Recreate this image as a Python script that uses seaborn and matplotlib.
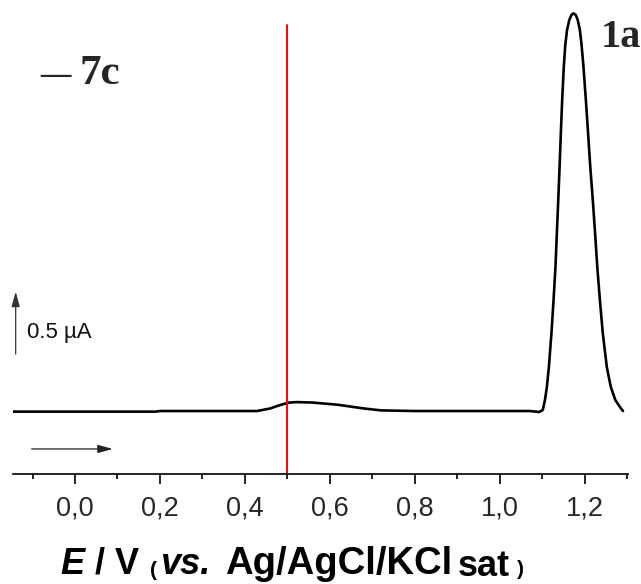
import matplotlib
matplotlib.use("Agg")
import matplotlib.pyplot as plt
import seaborn as sns
import pandas as pd
import numpy as np

# ---- data ----
potential_V = [-0.146, 0.19, 0.20, 0.30, 0.40, 0.4287, 0.459, 0.4800, 0.5018, 0.5206,
               0.5607, 0.6196, 0.6808, 0.7208, 0.80, 0.90, 1.00, 1.07, 1.0931,
               1.1013, 1.1065, 1.1110, 1.1157, 1.1218, 1.1267, 1.1312, 1.1345,
               1.1378, 1.1409, 1.1439, 1.1470, 1.1508, 1.1543, 1.1585, 1.1637,
               1.1689, 1.1738, 1.1790, 1.1837, 1.1887, 1.1927, 1.1972, 1.2028,
               1.2080, 1.2132, 1.2191, 1.2245, 1.2297, 1.2358, 1.2426, 1.2521,
               1.2615, 1.2721, 1.2815, 1.2902]
current_uA = [-0.005, -0.005, 0.0, 0.0, 0.0, 0.0, 0.02, 0.045, 0.067, 0.072,
              0.068, 0.05, 0.02, 0.005, 0.0, 0.0, 0.0, 0.0, -0.008,
              0.008, 0.089, 0.194, 0.355, 0.629, 0.895, 1.161, 1.435,
              1.702, 1.968, 2.242, 2.508, 2.774, 2.952, 3.073, 3.153,
              3.194, 3.207, 3.194, 3.153, 3.073, 2.952, 2.774, 2.508,
              2.242, 1.968, 1.702, 1.435, 1.161, 0.895, 0.629, 0.355,
              0.194, 0.089, 0.040, 0.0]
marker_potential = 0.5
xticks = [0.0, 0.2, 0.4, 0.6, 0.8, 1.0, 1.2]
xtick_labels = ["0,0", "0,2", "0,4", "0,6", "0,8", "1,0", "1,2"]
scale_bar_label = "0.5 \u00b5A"
curve_label = "7c"
peak_label = "1a"

df = pd.DataFrame({"E": potential_V, "I": current_uA})

W, H = 641, 584
fig = plt.figure(figsize=(W / 100, H / 100), dpi=100)
sns.set_style("white")
plt.rcParams["font.family"] = ["Liberation Sans", "DejaVu Sans"]

def fx(px):
    return px / W

def fy(py):
    return 1 - py / H

ax = fig.add_axes([fx(13), fy(474), fx(628) - fx(13), fy(10) - fy(474)])
sns.lineplot(data=df, x="E", y="I", ax=ax, color="black", lw=1.9, sort=False)
ax.lines[0].set_solid_joinstyle("round")
ax.set_xlim(-0.146, 1.302)
ax.set_ylim(-0.508, 3.234)
ax.axvline(marker_potential, ymin=0, ymax=0.968, color="#ff0000", lw=1.4)

for s in ["top", "right", "left"]:
    ax.spines[s].set_visible(False)
ax.spines["bottom"].set_linewidth(1.2)
ax.spines["bottom"].set_color("black")
ax.set_yticks([])
ax.set_xticks(xticks)
ax.set_xticklabels(xtick_labels)
ax.set_xticks(np.arange(-0.1, 1.31, 0.1), minor=True)
ax.tick_params(axis="x", which="major", direction="out", length=7, width=1.2,
               pad=8.5, labelsize=19.5, bottom=True, color="black")
ax.tick_params(axis="x", which="minor", direction="out", length=3.6, width=1.2,
               bottom=True, color="black")
ax.set_xlabel("")
ax.set_ylabel("")

# scale bar arrow (vertical) and sweep direction arrow (horizontal)
ax.annotate("", xy=(-0.1397, 0.962), xytext=(-0.1397, 0.46),
            arrowprops=dict(arrowstyle="-|>,head_length=0.9,head_width=0.25",
                            lw=0.9, color="#333333", shrinkA=0, shrinkB=0,
                            mutation_scale=10))
ax.annotate("", xy=(0.0888, -0.306), xytext=(-0.102, -0.306),
            arrowprops=dict(arrowstyle="-|>,head_length=0.9,head_width=0.25",
                            lw=0.9, color="#222222", shrinkA=0, shrinkB=0,
                            mutation_scale=10))
fig.text(fx(27), fy(338), scale_bar_label, fontsize=16, color="#111111",
         ha="left", va="baseline")

# curve labels
serif = ["Liberation Serif", "DejaVu Serif"]
fig.text(fx(40.7), fy(83), "\u2014", fontsize=22, fontweight="bold",
         family=serif, ha="left", va="baseline")
fig.text(fx(79), fy(84), curve_label, fontsize=31, fontweight="bold",
         family=serif, ha="left", va="baseline")
fig.text(fx(601), fy(46.7), peak_label, fontsize=29, fontweight="bold",
         family=serif, ha="left", va="baseline")

# x-axis label built from pieces
base = 574
pieces = [
    ("E", 60, base, 26, "italic"),
    ("/ V", 95, base, 26, "normal"),
    ("(", 150, base + 2, 15, "normal"),
    ("vs.", 160, base, 26, "italic"),
    ("Ag/AgCl/KCl", 225, base, 27.5, "normal"),
    ("sat", 458, base + 2, 26, "normal"),
    (")", 517, base + 1, 15, "normal"),
]
for txt, px, py, fs, st in pieces:
    fig.text(fx(px), fy(py), txt, fontsize=fs, fontweight="bold", fontstyle=st,
             ha="left", va="baseline", color="black")

fig.savefig("out.png", dpi=100)
